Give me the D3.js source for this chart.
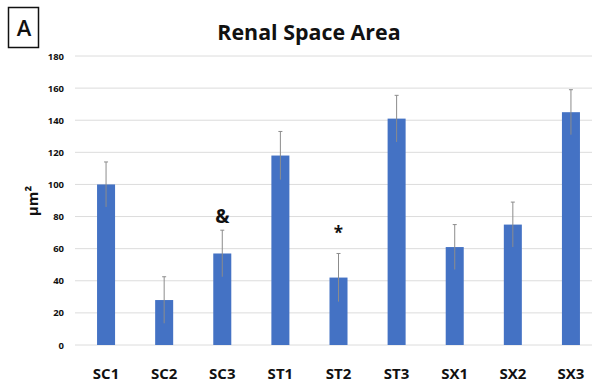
<!DOCTYPE html>
<html>
<head>
<meta charset="utf-8">
<script src="https://cdn.jsdelivr.net/npm/d3@7"></script>
<style>
  html, body { margin: 0; padding: 0; background: #fff; }
  svg { display: block; }
  text { font-family: "Open Sans", "Liberation Sans", sans-serif; font-weight: bold; fill: #111; }
</style>
</head>
<body>
<svg id="chart" width="594" height="385"></svg>
<script>
// Renal space area per group (mean and error)
const groups = ["SC1", "SC2", "SC3", "ST1", "ST2", "ST3", "SX1", "SX2", "SX3"];
const means  = [100, 28, 57, 118, 42, 141, 61, 75, 145];
const errors = [14, 14.5, 14.5, 15, 15, 14.5, 14, 14, 14];
const marks  = ["", "", "&", "", "*", "", "", "", ""];
const yTicks = [0, 20, 40, 60, 80, 100, 120, 140, 160, 180];

const svg = d3.select("#chart");
const plot = { left: 77, right: 600, top: 56, bottom: 345 };

const x = d3.scaleBand().domain(groups).range([plot.left, plot.right]).paddingInner(0.69).paddingOuter(0.345);
const y = d3.scaleLinear().domain([0, 180]).range([plot.bottom, plot.top]);

// horizontal grid
svg.append("g").selectAll("line").data(yTicks).join("line")
  .attr("x1", 75).attr("x2", 592)
  .attr("y1", d => y(d)).attr("y2", d => y(d))
  .attr("stroke", "#dcdcdc").attr("stroke-width", 1);

// y axis labels
const yAxis = d3.axisLeft(y).tickValues(yTicks).tickSize(0).tickPadding(0);
const gy = svg.append("g").attr("transform", "translate(64,0)").call(yAxis);
gy.select(".domain").remove();
gy.selectAll("text").style("font-size", "9.5px").style("font-family", "Open Sans, sans-serif").style("font-weight", "bold").attr("fill", "#222");

// x axis labels
const xAxis = d3.axisBottom(x).tickSize(0).tickPadding(0);
const gx = svg.append("g").attr("transform", "translate(0,379)").call(xAxis);
gx.select(".domain").remove();
gx.selectAll("text").attr("dy", "0").style("font-size", "15px").style("font-family", "Open Sans, sans-serif").style("font-weight", "bold").attr("fill", "#111");

// bars
svg.append("g").selectAll("rect").data(groups).join("rect")
  .attr("x", d => x(d)).attr("width", x.bandwidth())
  .attr("y", (d, i) => y(means[i])).attr("height", (d, i) => y(0) - y(means[i]))
  .attr("fill", "#4472c4");

// error bars
const eb = svg.append("g").attr("stroke", "#8c8c8c").attr("stroke-width", 1);
groups.forEach((g, i) => {
  const cx = x(g) + x.bandwidth() / 2;
  eb.append("line").attr("x1", cx).attr("x2", cx)
    .attr("y1", y(means[i] - errors[i])).attr("y2", y(means[i] + errors[i]));
  eb.append("line").attr("x1", cx - 2).attr("x2", cx + 2)
    .attr("y1", y(means[i] + errors[i])).attr("y2", y(means[i] + errors[i]));
});

// significance marks above the error bars
svg.append("g").selectAll("text").data(groups).join("text")
  .attr("x", d => x(d) + x.bandwidth() / 2)
  .attr("y", (d, i) => y(means[i] + errors[i]) - (marks[i] === "*" ? 14 : 7))
  .attr("text-anchor", "middle")
  .style("font-size", (d, i) => marks[i] === "*" ? "17px" : "19px")
  .text((d, i) => marks[i]);

// title
svg.append("text").attr("x", 309).attr("y", 40).attr("text-anchor", "middle")
  .style("font-size", "21.4px").text("Renal Space Area");

// y axis title
svg.append("text").attr("transform", "translate(38,201) rotate(-90)")
  .attr("text-anchor", "middle").style("font-size", "15px").text("μm²");

// panel letter
svg.append("rect").attr("x", 8.5).attr("y", 7.5).attr("width", 30).attr("height", 40)
  .attr("fill", "none").attr("stroke", "#111").attr("stroke-width", 1.5);
svg.append("text").attr("x", 24).attr("y", 36).attr("text-anchor", "middle")
  .style("font-size", "22px").style("font-weight", "600").text("A");
</script>
</body>
</html>
